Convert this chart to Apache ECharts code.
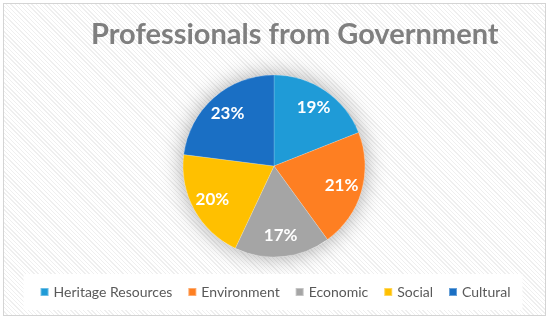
<!DOCTYPE html>
<html><head><meta charset="utf-8">
<script src="https://cdn.jsdelivr.net/npm/echarts@6/dist/echarts.min.js"></script>
<style>
html,body{margin:0;padding:0;background:#fff;}
#wrap{position:absolute;left:3px;top:3px;width:541px;height:311px;border:1px solid #d4d4d4;
background:repeating-linear-gradient(45deg,#ffffff 0px,#ffffff 2px,#efefef 2px,#efefef 3px);}
#chart{position:absolute;left:0;top:0;width:550px;height:320px;}
</style></head>
<body>
<div id="wrap"></div>
<div id="chart"></div>
<script>
const titleText = 'Professionals from Government';
const categories = ['Heritage Resources','Environment','Economic','Social','Cultural'];
const values = [19,21,17,20,23];
const colors = ['#1f9bd7','#fe7f22','#a5a5a5','#ffc000','#1a6fc4'];

const CX = 274, CY = 166, R = 91;
const chart = echarts.init(document.getElementById('chart'), null, {renderer:'canvas'});
chart.setOption({
  animation:false,
  title:{text:titleText,left:91,top:20,padding:0,
    textStyle:{fontFamily:'Lato',fontWeight:'bold',fontSize:29,color:'#7f7f7f'}},
  legend:{bottom:10,left:'center',data:categories,icon:'rect',itemWidth:8,itemHeight:8,itemGap:15,
    backgroundColor:'#ffffff',padding:[11,12,11,16],
    textStyle:{fontFamily:'Lato',fontSize:14,color:'#595959'}},
  series:[
    {type:'pie',silent:true,center:[CX,CY],radius:[0,R],z:1,
     label:{show:false},labelLine:{show:false},
     itemStyle:{color:'#ffffff',shadowBlur:22,shadowColor:'rgba(0,0,0,0.35)'},
     data:[{value:1,name:'_bg'}]},
    {type:'pie',center:[CX,CY],radius:[0,R],startAngle:90,clockwise:true,z:2,
     data:categories.map((c,i)=>({name:c,value:values[i],itemStyle:{color:colors[i]}})),
     itemStyle:{borderColor:'rgba(255,255,255,0.35)',borderWidth:0.5},
     label:{show:true,position:'inside',formatter:p=>p.value+'%',
       fontFamily:'Lato',fontWeight:'bold',fontSize:17,color:'#ffffff'},
     labelLayout:function(p){
       const lx=p.labelRect.x+p.labelRect.width/2, ly=p.labelRect.y+p.labelRect.height/2;
       const k=1.45;
       return {x:CX+(lx-CX)*k, y:CY+(ly-CY)*k, align:'center', verticalAlign:'middle'};
     }}
  ]
});
</script>
</body></html>
